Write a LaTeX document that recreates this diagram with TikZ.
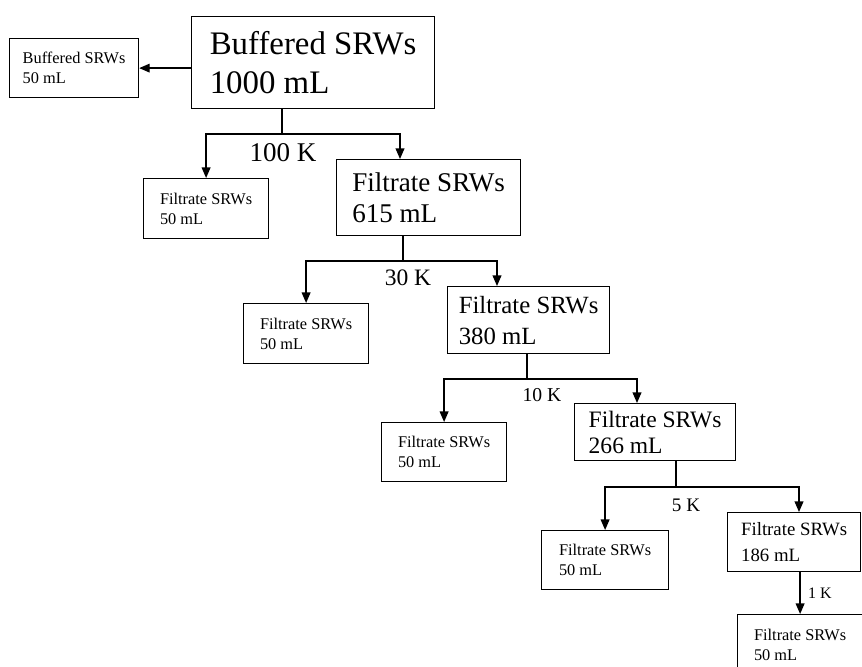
\documentclass[tikz,border=0pt]{standalone}
\usepackage{fontspec}
\setmainfont{Liberation Serif}
\usetikzlibrary{arrows.meta, calc}

\newcommand{\txtsize}[2]{\fontsize{#1}{#2}\selectfont}

\begin{document}
\begin{tikzpicture}[
    x=0.02cm, y=-0.02cm,
    wire/.style={line width=0.7pt},
    arr/.style={wire, -{Triangle[length=6pt, width=5pt]}},
    stage/.style={
      draw, line width=0.7pt, anchor=north west,
      align=left, inner sep=0pt,
    },
    leaf/.style={
      stage, font=\txtsize{9.3}{11.3},
      minimum width=2.5cm, minimum height=1.2cm,
    },
    cutoff/.style={inner sep=0pt},
]

\useasboundingbox (0,0) rectangle (862,666);
\clip (0,0) rectangle (862,666);

% Starting sample
\node[stage, font=\txtsize{18.7}{22.3}, minimum width=4.86cm, minimum height=1.84cm]
    (buffered) at (191,16) {Buffered SRWs\\1000 mL};
\node[leaf, minimum width=2.58cm, minimum height=1.18cm]
    (bufkept) at (9,38) {Buffered SRWs\\50 mL};
\draw[arr] (buffered.west |- bufkept.east) -- (bufkept.east);

% 100 K cut
\node[stage, font=\txtsize{15.4}{18}, minimum width=3.68cm, minimum height=1.52cm]
    (f615) at (336,159) {Filtrate SRWs\\615 mL};
\node[leaf] (kept100) at (143,178) {Filtrate SRWs\\50 mL};
\coordinate (split100) at (282,134);
\draw[wire] (buffered.south -| split100) -- (split100);
\draw[arr] (split100) -| (kept100.north);
\draw[arr] (split100) -| ($(f615.north west)+(64,0)$);
\node[cutoff, font=\txtsize{15.4}{18}] (cut100) at (283,153) {100 K};

% 30 K cut
\node[stage, font=\txtsize{14.1}{17.6}, minimum width=3.24cm, minimum height=1.34cm]
    (f380) at (447,286) {Filtrate SRWs\\380 mL};
\node[leaf] (kept30) at (243,303) {Filtrate SRWs\\50 mL};
\coordinate (split30) at (403,261);
\draw[wire] (f615.south -| split30) -- (split30);
\draw[arr] (split30) -| (kept30.north);
\draw[arr] (split30) -| ($(f380.north west)+(50,0)$);
\node[cutoff, font=\txtsize{13.4}{16}] (cut30) at (408,278) {30 K};

% 10 K cut
\node[stage, font=\txtsize{13.4}{14.8}, minimum width=3.22cm, minimum height=1.14cm]
    (f266) at (574,403) {Filtrate SRWs\\266 mL};
\node[leaf, minimum height=1.18cm] (kept10) at (381,422) {Filtrate SRWs\\50 mL};
\coordinate (split10) at (527,379);
\draw[wire] (f380.south -| split10) -- (split10);
\draw[arr] (split10) -| (kept10.north);
\draw[arr] (split10) -| ($(f266.north west)+(63,0)$);
\node[cutoff, font=\txtsize{11.2}{13}] (cut10) at (542,395) {10 K};

% 5 K cut
\node[stage, font=\txtsize{10.7}{15.3}, minimum width=2.66cm, minimum height=1.18cm]
    (f186) at (727,512) {Filtrate SRWs\\186 mL};
\node[leaf, minimum width=2.54cm, minimum height=1.18cm] (kept5) at (541,530) {Filtrate SRWs\\50 mL};
\coordinate (split5) at (676,487);
\draw[wire] (f266.south -| split5) -- (split5);
\draw[arr] (split5) -| (kept5.north);
\draw[arr] (split5) -| ($(f186.north west)+(72,0)$);
\node[cutoff, font=\txtsize{10.9}{13}] (cut5) at (686,505) {5 K};

% 1 K cut
\node[leaf] (kept1) at (737,614) {Filtrate SRWs\\50 mL};
\draw[arr] (f186.south -| kept1.north) -- (kept1.north);
\node[cutoff, font=\txtsize{9.1}{11}] (cut1) at (820,593) {1 K};
\end{tikzpicture}
\end{document}
